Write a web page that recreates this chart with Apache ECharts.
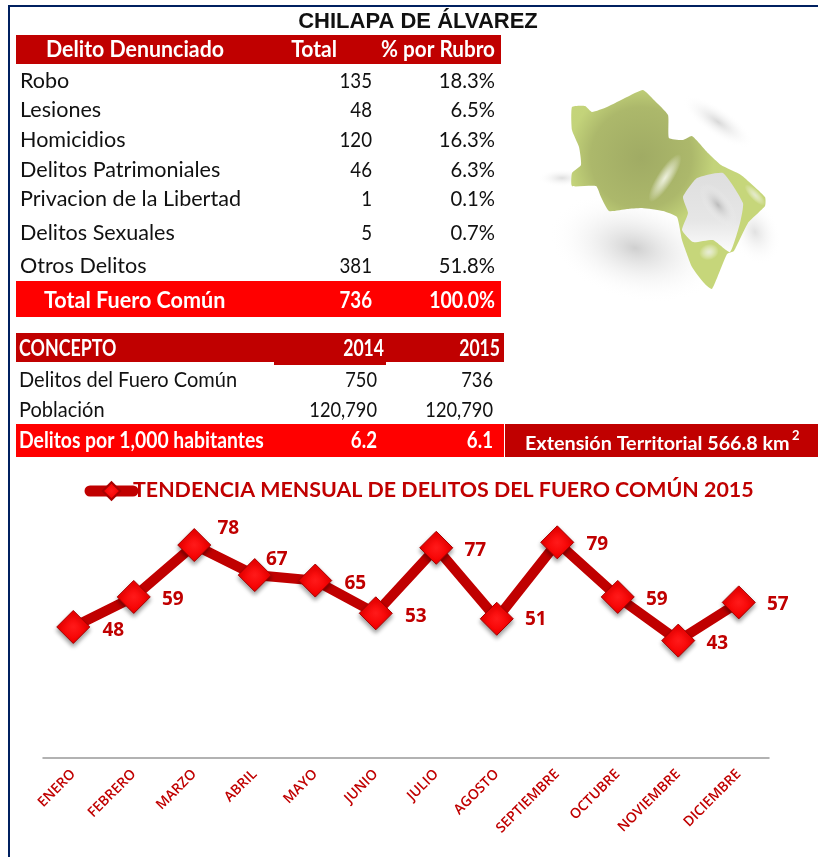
<!DOCTYPE html>
<html>
<head>
<meta charset="utf-8">
<title>Chilapa de Álvarez</title>
<style>
html, body { margin: 0; padding: 0; background: #fff; }
#main { width: 818px; height: 857px; }
</style>
<script src="https://cdn.jsdelivr.net/npm/echarts@6/dist/echarts.min.js"></script>
</head>
<body>
<div id="main"></div>
<script>
var titleText = 'CHILAPA DE ÁLVAREZ';
var crimeHeader = ['Delito Denunciado', 'Total', '% por Rubro'];
var crimeNames = ['Robo', 'Lesiones', 'Homicidios', 'Delitos Patrimoniales', 'Privacion de la Libertad', 'Delitos Sexuales', 'Otros Delitos'];
var crimeTotals = ['135', '48', '120', '46', '1', '5', '381'];
var crimePercents = ['18.3%', '6.5%', '16.3%', '6.3%', '0.1%', '0.7%', '51.8%'];
var crimeFooter = ['Total Fuero Común', '736', '100.0%'];

var conceptHeader = ['CONCEPTO', '2014', '2015'];
var conceptNames = ['Delitos del Fuero Común', 'Población'];
var concept2014 = ['750', '120,790'];
var concept2015 = ['736', '120,790'];
var conceptFooter = ['Delitos por 1,000 habitantes', '6.2', '6.1'];
var extensionText = 'Extensión Territorial 566.8 km';

var trendName = 'TENDENCIA MENSUAL DE DELITOS DEL FUERO COMÚN 2015';
var months = ['ENERO', 'FEBRERO', 'MARZO', 'ABRIL', 'MAYO', 'JUNIO', 'JULIO', 'AGOSTO', 'SEPTIEMBRE', 'OCTUBRE', 'NOVIEMBRE', 'DICIEMBRE'];
var monthlyCrimes = [48, 59, 78, 67, 65, 53, 77, 51, 79, 59, 43, 57];

var DARK = '#C00000';
var RED = '#FF0000';
var TABLE_FONT = 'Lato';

// donde cae cada etiqueta respecto a su punto
var labelOffsets = [[40, 4], [39, 3], [34, -16], [22, -15], [40, 3], [40, 3], [39, 3], [39, 1], [40, 2], [39, 3], [39, 3], [39, 2]];

function box(x, y, w, h, color) {
    return { type: 'rect', silent: true, shape: { x: x, y: y, width: w, height: h }, style: { fill: color } };
}

function cell(str, x, y, opt) {
    opt = opt || {};
    return {
        type: 'text',
        silent: true,
        x: x,
        y: y,
        scaleX: opt.scaleX || 1,
        style: {
            text: str,
            fill: opt.color || '#111',
            font: (opt.bold ? 'bold ' : '') + (opt.size || 22) + 'px ' + (opt.family || TABLE_FONT),
            align: opt.align || 'left',
            verticalAlign: 'middle'
        }
    };
}

function whiteCell(str, x, y, scale, align) {
    return cell(str, x, y, { color: '#fff', bold: true, size: 22, scaleX: scale, align: align });
}

function tables() {
    var els = [];
    var rowY = [81, 110, 140, 170, 199, 233, 266];
    var i;

    // marco
    els.push(box(8, 5, 810, 2, '#002060'));
    els.push(box(8, 5, 2, 852, '#002060'));

    els.push(cell(titleText, 418, 22, { family: 'Liberation Sans', bold: true, size: 22, align: 'center', color: '#111' }));

    els.push(box(16, 35, 485, 29, DARK));
    els.push(whiteCell(crimeHeader[0], 46, 50, 0.97));
    els.push(whiteCell(crimeHeader[1], 337, 50, 0.96, 'right'));
    els.push(whiteCell(crimeHeader[2], 495, 50, 0.94, 'right'));

    for (i = 0; i < crimeNames.length; i++) {
        els.push(cell(crimeNames[i], 20, rowY[i], { scaleX: 0.98 }));
        els.push(cell(crimeTotals[i], 372, rowY[i], { align: 'right', scaleX: 0.85 }));
        els.push(cell(crimePercents[i], 495, rowY[i], { align: 'right', scaleX: 0.92 }));
    }

    els.push(box(16, 281, 485, 36, RED));
    els.push(whiteCell(crimeFooter[0], 44, 301, 0.98));
    els.push(whiteCell(crimeFooter[1], 372, 301, 0.85, 'right'));
    els.push(whiteCell(crimeFooter[2], 495, 301, 0.885, 'right'));

    els.push(box(16, 333, 488, 29, DARK));
    els.push(box(274, 360, 112, 5, DARK));
    els.push(whiteCell(conceptHeader[0], 19, 349, 0.81));
    els.push(whiteCell(conceptHeader[1], 384, 349, 0.8, 'right'));
    els.push(whiteCell(conceptHeader[2], 500, 349, 0.8, 'right'));

    var conceptY = [380, 410];
    for (i = 0; i < conceptNames.length; i++) {
        els.push(cell(conceptNames[i], 19, conceptY[i], { scaleX: 0.91 }));
        els.push(cell(concept2014[i], 377, conceptY[i], { align: 'right', scaleX: 0.83 }));
        els.push(cell(concept2015[i], 493, conceptY[i], { align: 'right', scaleX: 0.83 }));
    }

    els.push(box(16, 424, 488, 33, RED));
    els.push(whiteCell(conceptFooter[0], 19, 441, 0.88));
    els.push(whiteCell(conceptFooter[1], 377, 441, 0.85, 'right'));
    els.push(whiteCell(conceptFooter[2], 493, 441, 0.85, 'right'));

    els.push(box(505, 424, 313, 33, DARK));
    els.push(cell(extensionText, 525, 444, { color: '#fff', bold: true, size: 19, scaleX: 1.04 }));
    els.push(cell('2', 792, 436, { color: '#fff', bold: true, size: 13 }));

    // titulo de la grafica, junto a la muestra de la leyenda
    els.push(cell(trendName, 133, 490, { color: DARK, bold: true, size: 21.4 }));
    return els;
}

// mancha difusa: circulo con degradado que se desvanece
function smear(cx, cy, rx, ry, angle, color) {
    return {
        type: 'circle',
        silent: true,
        x: cx,
        y: cy,
        scaleX: rx / 100,
        scaleY: ry / 100,
        rotation: angle,
        shape: { cx: 0, cy: 0, r: 100 },
        style: {
            fill: {
                type: 'radial', x: 0.5, y: 0.5, r: 0.5,
                colorStops: [{ offset: 0, color: color }, { offset: 1, color: 'rgba(255,255,255,0)' }]
            }
        }
    };
}

// silueta del municipio (imagen decorativa del original)
function mapShape() {
    var outline = [[572, 107], [585, 106], [592, 112], [607, 107], [627, 97], [643, 90], [654, 100], [668, 115], [669, 138], [683, 140], [692, 136], [708, 153], [721, 165], [741, 175], [765, 197], [765, 206], [748, 223], [734, 251], [727, 254], [712, 289], [704, 283], [692, 267], [682, 240], [677, 217], [663, 211], [642, 208], [627, 209], [609, 211], [601, 197], [596, 186], [572, 186], [572, 173], [581, 165], [579, 147], [572, 130]];
    var hole = [[683, 197], [697, 178], [723, 173], [743, 203], [740, 223], [730, 252], [713, 240], [693, 242], [682, 230], [688, 213]];
    var els = [
        smear(635, 248, 88, 52, -0.25, 'rgba(175,175,175,0.6)'),
        smear(718, 122, 42, 14, -0.6, 'rgba(190,190,190,0.6)'),
        smear(562, 178, 24, 9, 0, 'rgba(200,200,200,0.6)'),
        smear(755, 232, 24, 34, 0.4, 'rgba(190,190,190,0.45)')
    ];
    els.push({
        type: 'polygon', silent: true, shape: { points: outline, smooth: 0.15 },
        style: {
            fill: {
                type: 'radial', x: 0.36, y: 0.34, r: 0.52,
                colorStops: [
                    { offset: 0, color: '#A0AB64' },
                    { offset: 0.5, color: '#ACB86B' },
                    { offset: 0.72, color: '#C3D37A' },
                    { offset: 1, color: '#C6D67A' }
                ]
            }
        }
    });
    els.push({
        type: 'polygon', silent: true, shape: { points: hole, smooth: 0.15 },
        style: {
            fill: {
                type: 'linear', x: 0, y: 0, x2: 0, y2: 1,
                colorStops: [{ offset: 0, color: '#DEDEDE' }, { offset: 0.6, color: '#E6E6E6' }, { offset: 1, color: '#FCFCFC' }]
            }
        }
    });
    els.push(smear(718, 205, 26, 12, -0.9, 'rgba(170,170,170,0.7)'));
    els.push(smear(665, 178, 28, 8, 1.0, 'rgba(240,243,225,0.95)'));
    els.push(smear(709, 252, 10, 8, 0.3, 'rgba(235,238,225,0.9)'));
    els.push(smear(755, 195, 14, 5, -0.8, 'rgba(235,238,225,0.8)'));
    return els;
}

var chart = echarts.init(document.getElementById('main'));

chart.setOption({
    backgroundColor: '#fff',
    animation: false,
    textStyle: { fontFamily: 'Open Sans' },
    legend: {
        top: 475,
        left: 79.5,
        itemWidth: 43,
        itemHeight: 22,
        itemGap: 0,
        selectedMode: false,
        lineStyle: { width: 11, cap: 'round' },
        formatter: function() { return ''; },
        data: [trendName]
    },
    grid: { left: 43, width: 726, top: 485, height: 273 },
    xAxis: {
        type: 'category',
        data: months,
        axisLine: { lineStyle: { color: '#999', width: 1.5 } },
        axisTick: { show: false },
        axisLabel: { interval: 0, rotate: 45, margin: 14, color: DARK, fontWeight: 600, fontSize: 14, fontFamily: 'Open Sans' }
    },
    yAxis: { type: 'value', min: 0, max: 100, show: false, splitLine: { show: false } },
    series: [{
        name: trendName,
        type: 'line',
        data: monthlyCrimes.map(function(v, i) {
            return { value: v, label: { offset: labelOffsets[i] } };
        }),
        symbol: 'diamond',
        symbolSize: 33,
        lineStyle: { color: DARK, width: 10, cap: 'butt', join: 'miter' },
        itemStyle: {
            color: {
                type: 'radial', x: 0.5, y: 0.5, r: 0.6,
                colorStops: [{ offset: 0, color: '#FF1A1A' }, { offset: 0.7, color: '#F50000' }, { offset: 1, color: '#B00000' }]
            },
            borderColor: '#A80000',
            borderWidth: 1,
            shadowColor: 'rgba(0,0,0,0.4)',
            shadowBlur: 4,
            shadowOffsetY: 3
        },
        label: {
            show: true,
            position: 'inside',
            color: DARK,
            fontFamily: 'Open Sans',
            fontWeight: 'bold',
            fontSize: 19
        }
    }],
    graphic: { elements: tables().concat(mapShape()) }
});
</script>
</body>
</html>
